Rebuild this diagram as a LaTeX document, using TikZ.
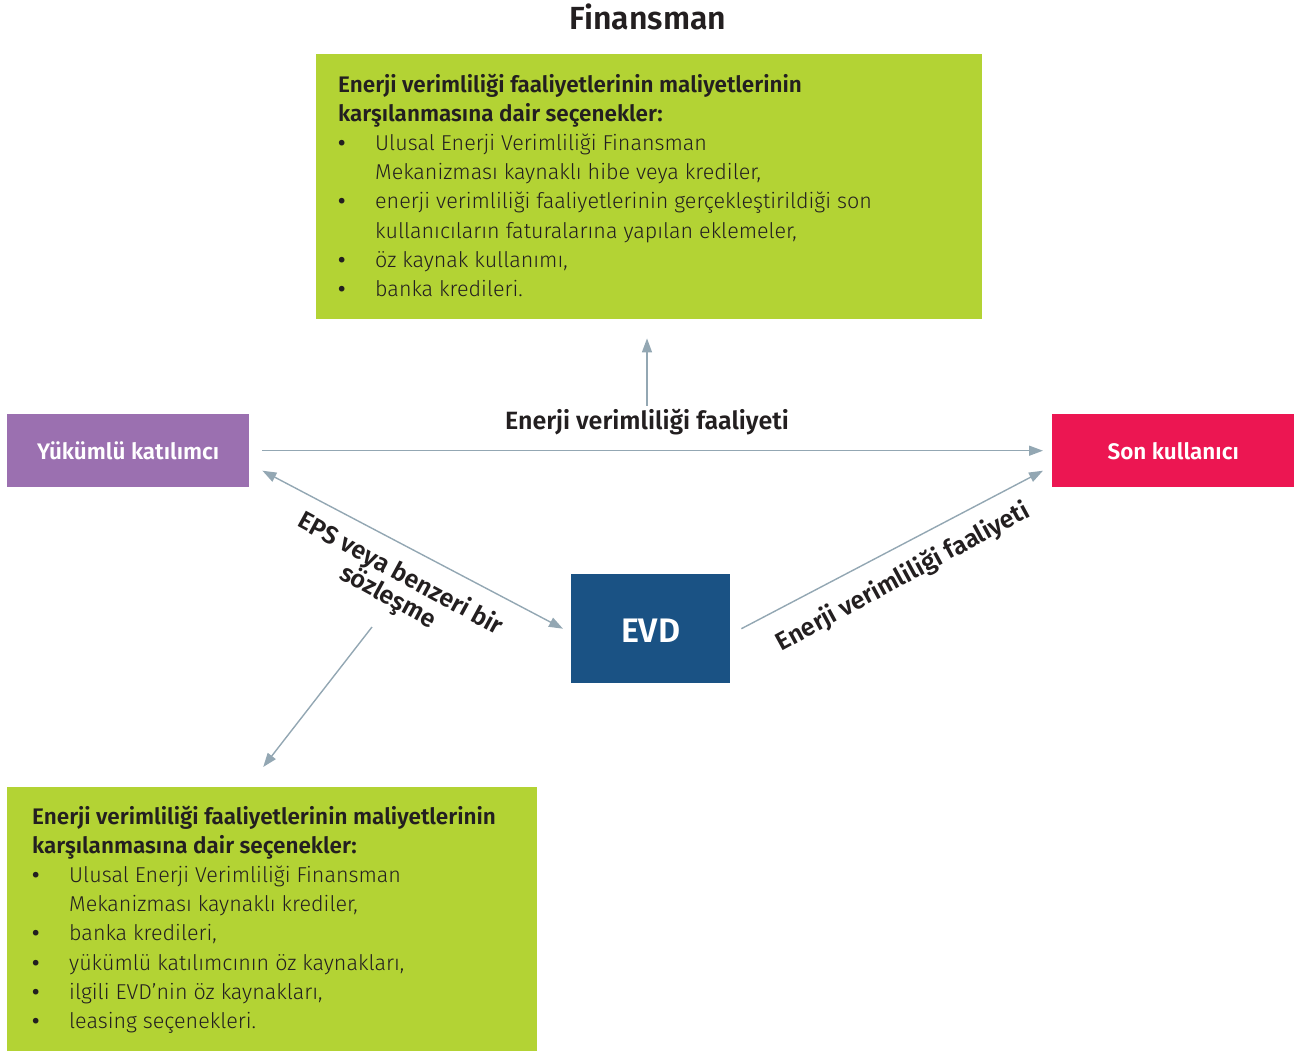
\documentclass[tikz,border=0pt]{standalone}
\usepackage{fontspec}
\setmainfont{Fira Sans}[UprightFont=* Light, BoldFont=* SemiBold]
\usetikzlibrary{arrows.meta}

\definecolor{lime}{HTML}{B3D334}
\definecolor{lilac}{HTML}{9B70B0}
\definecolor{crimson}{HTML}{EC1652}
\definecolor{navy}{HTML}{1A5284}
\definecolor{steel}{HTML}{93A7B3}
\definecolor{ink}{HTML}{231F20}

\newcommand{\bl}{\makebox[37pt][l]{\textbf{\textbullet}}}
\newcommand{\cont}{\hspace*{37pt}}
\newcommand{\hd}[1]{{\fontsize{22.5}{29.2}\selectfont\textbf{#1}}}

\begin{document}
\begin{tikzpicture}[x=1pt, y=-1pt, >={Triangle[length=14pt,width=10pt]},
  box/.style = {anchor=north west, inner sep=0pt},
  tag/.style = {text=white, font=\fontsize{22.5}{26}\selectfont\bfseries},
  lbl/.style = {text=ink, font=\fontsize{25}{26}\selectfont\bfseries, align=center},
  list/.style = {anchor=base west, inner sep=0pt, align=left, text=ink,
    font=\fontsize{21.5}{29.2}\selectfont},
  link/.style = {draw=steel, line width=1.4pt}]
\useasboundingbox (0,0) rectangle (1306,1051);

\node[lbl, font=\fontsize{32}{36}\selectfont\bfseries] (fin) at (648,17) {Finansman};

% boxes
\node[box, fill=lime, minimum width=666pt, minimum height=265pt] (top) at (316,54) {};
\node[box, fill=lime, minimum width=530pt, minimum height=264pt] (bot) at (7,787) {};
\node[box, fill=lilac, minimum width=242pt, minimum height=73pt] (yuk) at (7,414) {};
\node[box, fill=crimson, minimum width=242pt, minimum height=73pt] (son) at (1052,414) {};
\node[box, fill=navy, minimum width=159pt, minimum height=109pt] (evd) at (571,574) {};

\node[tag] at (yuk.center) {Yükümlü katılımcı};
\node[tag] at (son.center) {Son kullanıcı};
\node[tag, font=\fontsize{34}{38}\selectfont\bfseries] at ([yshift=-2pt]evd.center) {EVD};

\node[list] (toptext) at (338,296.4) {%
  \hd{Enerji verimliliği faaliyetlerinin maliyetlerinin}\\
  \hd{karşılanmasına dair seçenekler:}\\
  \bl Ulusal Enerji Verimliliği Finansman\\
  \cont Mekanizması kaynaklı hibe veya krediler,\\
  \bl enerji verimliliği faaliyetlerinin gerçekleştirildiği son\\
  \cont kullanıcıların faturalarına yapılan eklemeler,\\
  \bl öz kaynak kullanımı,\\
  \bl banka kredileri.};

\node[list] (bottext) at (32,1028.4) {%
  \hd{Enerji verimliliği faaliyetlerinin maliyetlerinin}\\
  \hd{karşılanmasına dair seçenekler:}\\
  \bl Ulusal Enerji Verimliliği Finansman\\
  \cont Mekanizması kaynaklı krediler,\\
  \bl banka kredileri,\\
  \bl yükümlü katılımcının öz kaynakları,\\
  \bl ilgili EVD’nin öz kaynakları,\\
  \bl leasing seçenekleri.};

% labels
\node[lbl] (act) at (647,422) {Enerji verimliliği faaliyeti};
\node[lbl, rotate=28.5] (act2) at (903,577) {Enerji verimliliği faaliyeti};
\node[lbl, rotate=-28.5] (eps) at (394,586) {EPS veya benzeri bir\\sözleşme};
\coordinate (epsfoot) at (372,627);

% connectors
\draw[link, ->] (act.north) -- ([yshift=-19pt]top.south -| act.north);
\draw[link, ->, shorten <=13pt, shorten >=9pt] (yuk.east) -- (son.west);
\draw[link, <->] ([xshift=13pt, yshift=-20pt]yuk.east) -- ([xshift=-8pt]evd.west);
\draw[link, ->] ([xshift=11pt]evd.east) -- ([xshift=-9pt, yshift=-20pt]son.west);
\draw[link, ->] (epsfoot) -- ([xshift=-9pt, yshift=20pt]bot.north);
\end{tikzpicture}
\end{document}
